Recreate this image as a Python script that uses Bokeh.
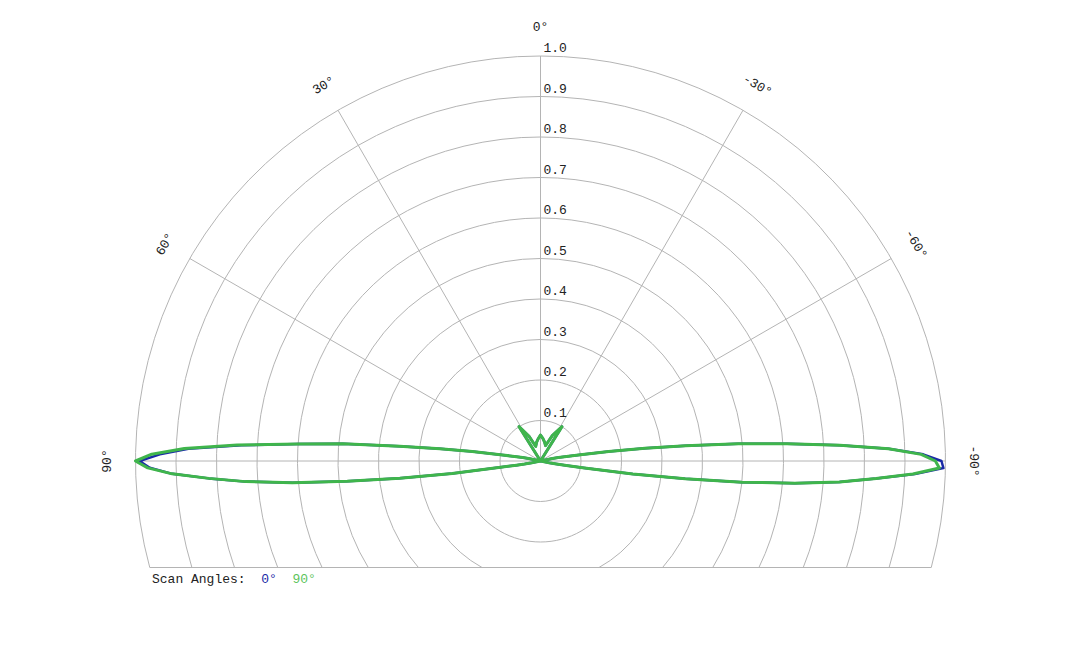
import math
import numpy as np
from bokeh.plotting import figure
from bokeh.models import ColumnDataSource, Range1d
from bokeh.core.properties import value
from bokeh.embed import file_html
from bokeh.resources import INLINE

# ---------------- data ----------------
angles_deg = [-104, -102, -101, -100, -99, -98, -97, -96, -95, -94, -93, -92, -91,
              -90, -89, -88, -87, -86, -85, -84, -83, -82, -81, -80, -79, -78,
              -70, -60, -50, -40, -34, -32, -25, -18, -12, -6, 0,
              6, 12, 18, 25, 32, 34, 40, 50, 60, 70,
              78, 79, 80, 81, 82, 83, 84, 85, 86, 87, 88, 89, 90,
              91, 92, 93, 94, 95, 96, 97, 98, 99, 100, 101, 102, 104]

gain_scan0 = [0.0, 0.025, 0.04, 0.065, 0.11, 0.23, 0.36, 0.50, 0.63, 0.74, 0.83, 0.925, 0.995,
              0.99, 0.945, 0.86, 0.74, 0.61, 0.49, 0.36, 0.26, 0.17, 0.10, 0.065, 0.045, 0.03,
              0.0, 0.0, 0.0, 0.0, 0.0, 0.100, 0.070, 0.040, 0.048, 0.056, 0.064,
              0.055, 0.047, 0.038, 0.068, 0.100, 0.0, 0.0, 0.0, 0.0, 0.0,
              0.03, 0.045, 0.065, 0.095, 0.17, 0.25, 0.35, 0.49, 0.60, 0.74, 0.87, 0.94, 0.99,
              0.965, 0.91, 0.82, 0.73, 0.615, 0.48, 0.35, 0.22, 0.10, 0.06, 0.04, 0.025, 0.0]

gain_scan90 = [0.0, 0.025, 0.04, 0.065, 0.11, 0.23, 0.36, 0.50, 0.63, 0.74, 0.83, 0.92, 0.985,
               0.975, 0.94, 0.86, 0.74, 0.61, 0.49, 0.36, 0.26, 0.17, 0.10, 0.065, 0.045, 0.03,
               0.0, 0.0, 0.0, 0.0, 0.0, 0.100, 0.070, 0.040, 0.048, 0.056, 0.064,
               0.055, 0.047, 0.038, 0.068, 0.100, 0.0, 0.0, 0.0, 0.0, 0.0,
               0.03, 0.045, 0.065, 0.095, 0.17, 0.25, 0.35, 0.49, 0.60, 0.75, 0.88, 0.96, 1.0,
               0.97, 0.91, 0.82, 0.73, 0.615, 0.48, 0.35, 0.22, 0.10, 0.06, 0.04, 0.025, 0.0]

ring_values = [0.1, 0.2, 0.3, 0.4, 0.5, 0.6, 0.7, 0.8, 0.9, 1.0]
ring_labels = ["0.1", "0.2", "0.3", "0.4", "0.5", "0.6", "0.7", "0.8", "0.9", "1.0"]
spoke_angles = [-90, -60, -30, 0, 30, 60, 90]
spoke_labels = ["-90°", "-60°", "-30°", "0°", "30°", "60°", "90°"]
legend_title = "Scan Angles:"
series_names = ["0°", "90°"]
series_colors = ["#1a2aa6", "#3fb54c"]
legend_colors = ["#1a2aa6", "#5cc45c"]

# ---------------- layout ----------------
W, H = 1064, 632
SCALE = 405.0           # pixels per unit radius
CX, CY = 540.0, 460.5   # centre in frame pixels
CLIP = 106.5 / SCALE    # bottom edge below centre
FONT = value("Liberation Mono")
GRID = "#b4b4b4"
TXT = "#222222"

p = figure(width=W, height=H, output_backend="svg", toolbar_location=None,
           x_range=Range1d(-CX / SCALE, (W - CX) / SCALE),
           y_range=Range1d(-(H - CY) / SCALE, CY / SCALE),
           min_border=0, x_axis_location=None, y_axis_location=None)
p.grid.visible = False
p.outline_line_color = None
p.background_fill_color = "white"
p.border_fill_color = "white"

# rings (clipped at bottom edge)
starts, ends = [], []
for r in ring_values:
    if r > CLIP:
        a = math.asin(-CLIP / r)
        starts.append(a)
        ends.append(math.pi - a)
    else:
        starts.append(0.0)
        ends.append(2 * math.pi - 1e-6)
p.arc(x=0, y=0, radius=ring_values, start_angle=starts, end_angle=ends,
      direction="anticlock", line_color=GRID, line_width=1)

# bottom edge
half = math.sqrt(1 - CLIP ** 2)
p.segment(x0=[-half], y0=[-CLIP], x1=[half], y1=[-CLIP], line_color=GRID, line_width=1)

# spokes
th = np.radians(spoke_angles)
p.segment(x0=0, y0=0, x1=list(-np.sin(th)), y1=list(np.cos(th)),
          line_color=GRID, line_width=1)

# ring labels
p.text(x=[3 / SCALE] * len(ring_values), y=[r + 8.5 / SCALE for r in ring_values],
       text=ring_labels, text_font=FONT, text_font_size="13px", text_color=TXT,
       text_align="left", text_baseline="middle")

# angle labels
LR = 1.07
p.text(x=list(-LR * np.sin(th)), y=list(LR * np.cos(th)), text=spoke_labels,
       angle=list(th), text_font=FONT, text_font_size="13px", text_color=TXT,
       text_align="center", text_baseline="middle")

# pattern curves
ang = np.radians(angles_deg)
for gains, col, lw in [(gain_scan0, series_colors[0], 2.5), (gain_scan90, series_colors[1], 3)]:
    g = np.array(gains)
    src = ColumnDataSource(dict(x=-g * np.sin(ang), y=g * np.cos(ang)))
    p.line("x", "y", source=src, line_color=col, line_width=lw, line_join="round")

# legend
LY = -118 / SCALE
LX = -388.5 / SCALE
CW = 7.8 / SCALE
p.text(x=[LX], y=[LY], text=[legend_title], text_font=FONT, text_font_size="13px",
       text_color=TXT, text_align="left", text_baseline="middle")
p.text(x=[LX + 14 * CW, LX + 18 * CW], y=[LY, LY], text=series_names,
       text_font=FONT, text_font_size="13px", text_color=legend_colors,
       text_align="left", text_baseline="middle")

open("out.html", "w").write(file_html(p, INLINE))
